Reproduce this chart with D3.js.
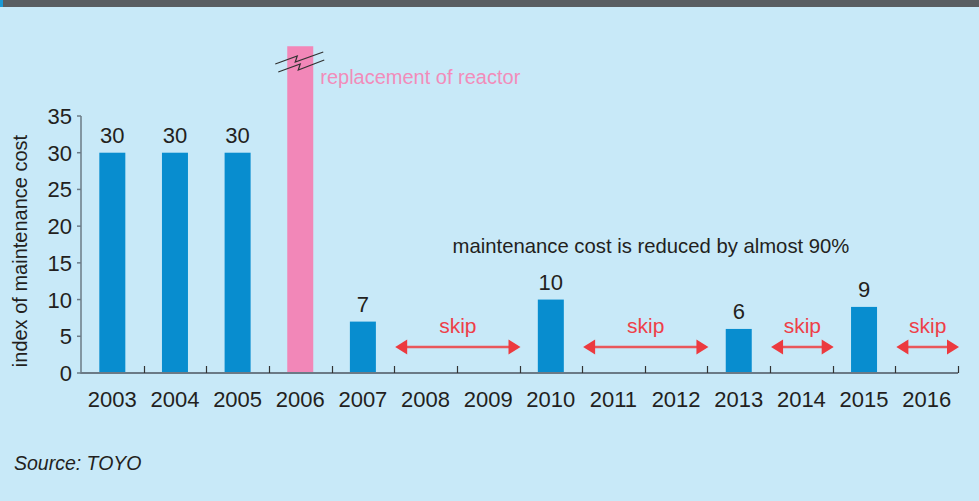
<!DOCTYPE html>
<html><head><meta charset="utf-8">
<script src="https://cdn.jsdelivr.net/npm/d3@7"></script>
<style>
html,body{margin:0;padding:0;background:#c8e9f8;}
svg{display:block;}
text{font-family:"Liberation Sans",Arial,sans-serif;}
</style></head>
<body>
<svg id="c" width="979" height="501"></svg>
<script>
const years = ["2003","2004","2005","2006","2007","2008","2009","2010","2011","2012","2013","2014","2015","2016"];
const values = [30,30,30,null,7,null,null,10,null,null,6,null,9,null];
const replacementYear = "2006";
const replacementTop = 44.5; // bar runs off the scale (broken bar)
const skipRanges = [["2008","2009"],["2011","2012"],["2014","2014"],["2016","2016"]];
const yTicks = [0,5,10,15,20,25,30,35];
const yLabel = "index of maintenance cost";
const note = "maintenance cost is reduced by almost 90%";
const replacementLabel = "replacement of reactor";
const skipLabel = "skip";
const source = "Source: TOYO";

const svg = d3.select("#c");
const W = 979, H = 501;
svg.append("rect").attr("width",W).attr("height",H).attr("fill","#c8e9f8");
svg.append("rect").attr("width",W).attr("height",7).attr("fill","#5a5e62");
svg.append("rect").attr("width",3).attr("height",7).attr("fill","#1a9ad6");

const x0 = 81, x1 = 958, y0 = 373;
const x = d3.scaleBand().domain(years).range([x0,x1]).paddingInner(0.585).paddingOuter(0.2925);
const y = d3.scaleLinear().domain([0,35]).range([y0,116]);
const step = x.step();

// bars
const blue = "#088dcf";
years.forEach((yr,i)=>{
  const v = values[i];
  if (v != null) {
    svg.append("rect").attr("x",x(yr)).attr("y",y(v)).attr("width",x.bandwidth())
      .attr("height",y(0)-y(v)).attr("fill",blue);
    svg.append("text").attr("x",x(yr)+x.bandwidth()/2).attr("y",y(v)-10)
      .attr("text-anchor","middle").attr("font-size",22).attr("fill","#231f20").text(v);
  }
});
// replacement bar
svg.append("rect").attr("x",x(replacementYear)).attr("y",y(replacementTop))
  .attr("width",x.bandwidth()).attr("height",y(0)-y(replacementTop)).attr("fill","#f287b8");
// break symbol
const bx = x(replacementYear);
const brk = [
  [[-12,64],[10,56],[8,62],[36,52]],
  [[-9,72],[13,64],[11,70],[37,60]]
];
brk.forEach(pts=>{
  svg.append("path").attr("d",d3.line()(pts.map(p=>[bx+p[0],p[1]])))
    .attr("fill","none").attr("stroke","#333").attr("stroke-width",1.2);
});
svg.append("text").attr("x",x(replacementYear)+x.bandwidth()+7).attr("y",84)
  .attr("font-size",20).attr("fill","#f28cba").text(replacementLabel);

// x axis
svg.append("line").attr("x1",x0).attr("x2",x1).attr("y1",y0).attr("y2",y0)
  .attr("stroke","#6b7a86").attr("stroke-width",2);
d3.range(1,years.length+1).forEach(i=>{
  const tx = Math.round(x0 + i*step)+0.5;
  svg.append("line").attr("x1",tx).attr("x2",tx).attr("y1",y0).attr("y2",y0-7)
    .attr("stroke","#333").attr("stroke-width",1.2);
});
years.forEach(yr=>{
  svg.append("text").attr("x",x(yr)+x.bandwidth()/2).attr("y",407)
    .attr("text-anchor","middle").attr("font-size",22).attr("fill","#231f20").text(yr);
});

// y axis
svg.append("line").attr("x1",x0).attr("x2",x0).attr("y1",y(0)+1).attr("y2",y(35))
  .attr("stroke","#6b7a86").attr("stroke-width",1.5);
yTicks.forEach(t=>{
  svg.append("line").attr("x1",x0-4).attr("x2",x0).attr("y1",y(t)).attr("y2",y(t))
    .attr("stroke","#6b7a86").attr("stroke-width",1.5);
  svg.append("text").attr("x",x0-9).attr("y",y(t)+8).attr("text-anchor","end")
    .attr("font-size",22).attr("fill","#231f20").text(t);
});
svg.append("text").attr("transform",`translate(27,251) rotate(-90)`)
  .attr("text-anchor","middle").attr("font-size",20).attr("fill","#231f20").text(yLabel);

// note
svg.append("text").attr("x",651).attr("y",253).attr("text-anchor","middle")
  .attr("font-size",20.3).attr("fill","#231f20").text(note);

// skip arrows
const red = "#ec3a3f";
skipRanges.forEach(([a,b])=>{
  const xa = x(a) - x.step()*x.paddingInner()/2 + 1;
  const xb = x(b) + x.bandwidth() + x.step()*x.paddingInner()/2 + 1;
  const ay = 347, ah = 12, aw = 7.5;
  svg.append("line").attr("x1",xa+ah-2).attr("x2",xb-ah+2).attr("y1",ay).attr("y2",ay)
    .attr("stroke","#e9575b").attr("stroke-width",2.5);
  svg.append("path").attr("d",`M${xa},${ay} L${xa+ah},${ay-aw} L${xa+ah},${ay+aw} Z`).attr("fill",red);
  svg.append("path").attr("d",`M${xb},${ay} L${xb-ah},${ay-aw} L${xb-ah},${ay+aw} Z`).attr("fill",red);
  svg.append("text").attr("x",(xa+xb)/2).attr("y",333).attr("text-anchor","middle")
    .attr("font-size",21).attr("fill","#ee4048").text(skipLabel);
});

// source
svg.append("text").attr("x",14).attr("y",470).attr("font-size",19.5).attr("font-style","italic")
  .attr("fill","#231f20").text(source);
</script>
</body></html>
